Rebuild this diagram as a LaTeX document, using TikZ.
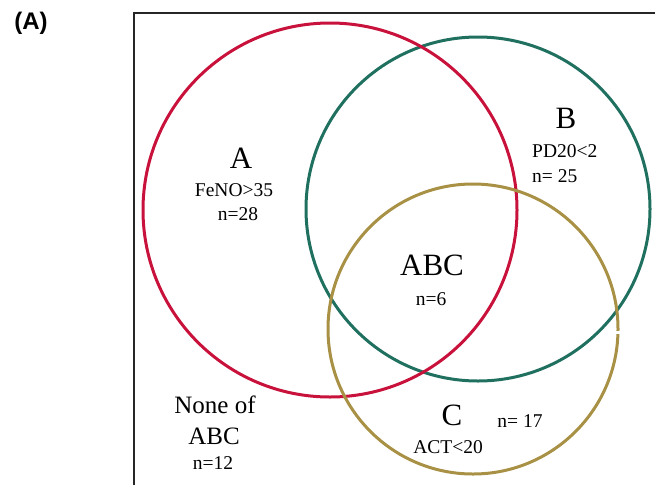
\documentclass[tikz,border=0pt]{standalone}
\usepackage{fontspec}
\setmainfont{Liberation Serif}
\newfontfamily\labelsans{Liberation Sans}
\definecolor{cred}{RGB}{200,18,60}
\definecolor{cteal}{RGB}{32,112,96}
\definecolor{colive}{RGB}{168,145,68}
\tikzset{
  setcircle/.style={circle, draw, line width=3pt, inner sep=0pt, outer sep=0pt},
  biglabel/.style={inner sep=0pt, anchor=base, font=\fontsize{31}{31}\selectfont},
  smalllabel/.style={inner sep=0pt, anchor=base, font=\fontsize{19.5}{19.5}\selectfont},
  nonelabel/.style={inner sep=0pt, anchor=base, font=\fontsize{25}{25}\selectfont},
  framestyle/.style={draw=black!85, line width=1.6pt}
}
\begin{document}
\begin{tikzpicture}[x=1pt,y=-1pt]
\useasboundingbox (0,0) rectangle (655,485);
% frame
\coordinate (fb) at (134,485);
\coordinate (fc) at (134,13);
\coordinate (fr) at (655,13);
\draw[framestyle] (fb) -- (fc) -- (fr);
% panel label
\node[inner sep=0pt, font=\labelsans\bfseries\fontsize{24}{24}\selectfont] (panel) at (31,23) {(A)};
% circles
\node[setcircle, draw=cteal, minimum size=344pt] (setB) at (478,209) {};
\node[setcircle, draw=cred, minimum size=374pt] (setA) at (330,210) {};
\node[setcircle, draw=colive, minimum size=290pt] (setC) at (473,329) {};
\fill[white] (613,330.5) rectangle (623,333.5);
% labels A
\node[biglabel] (lA) at (241,168) {A};
\node[smalllabel] (lAc) at (234,196) {FeNO>35};
\node[smalllabel] (lAn) at (238,220) {n=28};
% labels B
\node[biglabel] (lB) at (566,128) {B};
\node[smalllabel, anchor=base west] (lBc) at (532,157) {PD20<2};
\node[smalllabel, anchor=base west] (lBn) at (532,182) {n= 25};
% ABC
\node[biglabel] (lABC) at (432,275) {ABC};
\node[smalllabel] (lABCn) at (431,305) {n=6};
% C
\node[biglabel] (lC) at (452,425) {C};
\node[smalllabel] (lCc) at (448,453) {ACT<20};
\node[smalllabel] (lCn) at (520,427) {n= 17};
% none
\node[nonelabel] (lN1) at (215,413) {None of};
\node[nonelabel] (lN2) at (214,444) {ABC};
\node[smalllabel] (lNn) at (213,469) {n=12};
\end{tikzpicture}
\end{document}
